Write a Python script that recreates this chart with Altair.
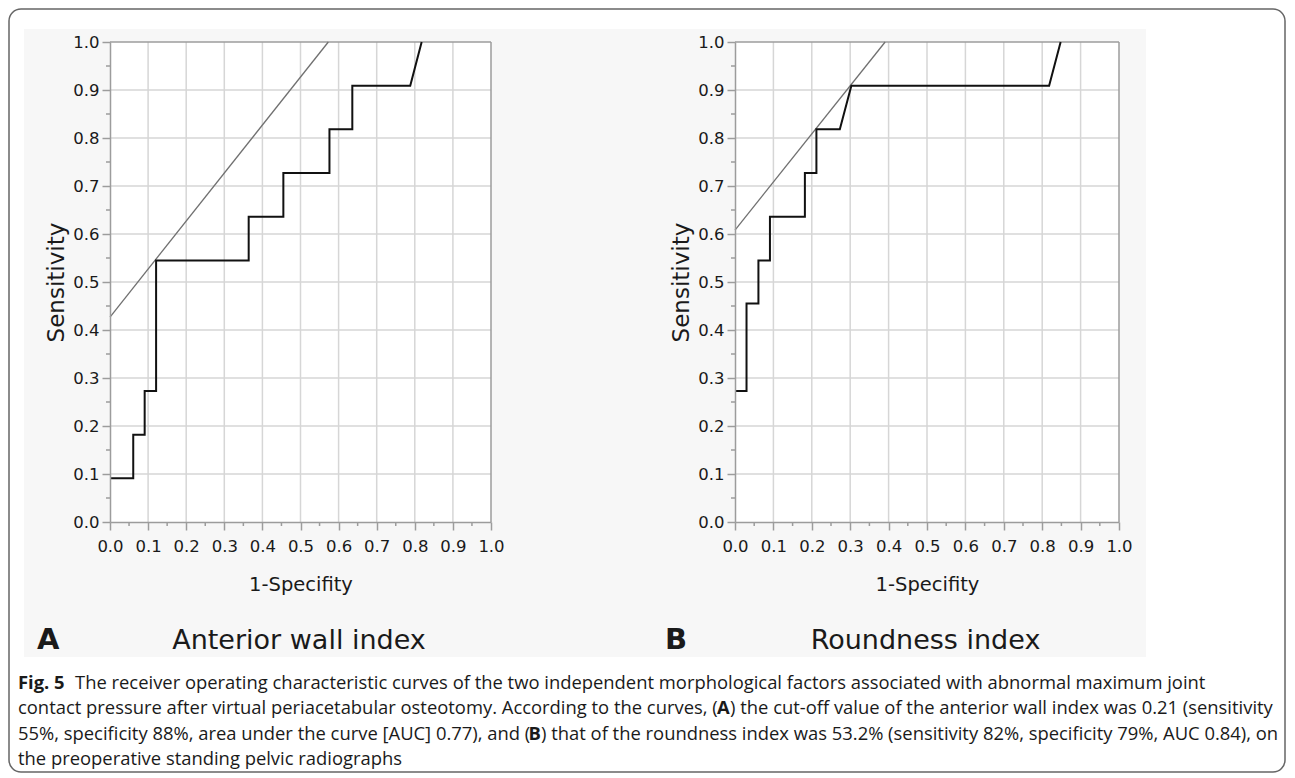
import altair as alt
import pandas as pd

# ---------------- data ----------------
tick_values = [0.0, 0.1, 0.2, 0.3, 0.4, 0.5, 0.6, 0.7, 0.8, 0.9, 1.0]
grid_values = [0.1, 0.2, 0.3, 0.4, 0.5, 0.6, 0.7, 0.8, 0.9]
minor_values = [0.05, 0.15, 0.25, 0.35, 0.45, 0.55, 0.65, 0.75, 0.85, 0.95]
frame_values = [1.0]

# Panel A: anterior wall index ROC curve
a_fpr = [0.0, 0.061, 0.061, 0.091, 0.091, 0.121, 0.121, 0.364, 0.364, 0.455, 0.455,
         0.576, 0.576, 0.636, 0.636, 0.788, 0.818]
a_tpr = [0.091, 0.091, 0.182, 0.182, 0.273, 0.273, 0.545, 0.545, 0.636, 0.636, 0.727,
         0.727, 0.818, 0.818, 0.909, 0.909, 1.0]
a_ref_x = [0.0, 0.573]
a_ref_y = [0.427, 1.0]

# Panel B: roundness index ROC curve
b_fpr = [0.0, 0.030, 0.030, 0.061, 0.061, 0.091, 0.091, 0.182, 0.182, 0.212, 0.212,
         0.273, 0.303, 0.818, 0.848]
b_tpr = [0.273, 0.273, 0.455, 0.455, 0.545, 0.545, 0.636, 0.636, 0.727, 0.727, 0.818,
         0.818, 0.909, 0.909, 1.0]
b_ref_x = [0.0, 0.391]
b_ref_y = [0.608, 1.0]

panel_letters = ["A", "B"]
panel_titles = ["Anterior wall index", "Roundness index"]
x_title = "1-Specifity"
y_title = "Sensitivity"

caption_fig = "Fig. 5"
caption_l1 = ("The receiver operating characteristic curves of the two independent morphological "
              "factors associated with abnormal maximum joint")
caption_l2a = "contact pressure after virtual periacetabular osteotomy. According to the curves, ("
caption_l2b = "A"
caption_l2c = ") the cut-off value of the anterior wall index was 0.21 (sensitivity"
caption_l3a = "55%, specificity 88%, area under the curve [AUC] 0.77), and ("
caption_l3b = "B"
caption_l3c = (") that of the roundness index was 53.2% (sensitivity 82%, specificity 79%, "
               "AUC 0.84), on")
caption_l4 = "the preoperative standing pelvic radiographs"

# ---------------- layout / style ----------------
W_A, W_B, H = 381, 384, 480
GAP = 244
FONT = "DejaVu Sans"
CFONT = "Open Sans"
GRID = "#d6d6d6"
AX = "#9c9c9c"
TXT = "#1a1a1a"
CAP_SIZE = 18.4

one = pd.DataFrame({"k": [0]})
SCALE = alt.Scale(domain=[0, 1], nice=False, zero=False)


def xenc(field):
    return alt.X(field, type="quantitative", scale=SCALE,
                 axis=alt.Axis(values=tick_values, format=".1f", title=x_title, zindex=1,
                               labelPadding=8, titlePadding=21, titleFontSize=19.5))


def yenc(field):
    return alt.Y(field, type="quantitative", scale=SCALE,
                 axis=alt.Axis(values=tick_values, format=".1f", title=y_title, zindex=1,
                               labelPadding=3, titlePadding=4, titleFontSize=23))


def text_layer(s, x, y, size, weight="normal", align="left", font=FONT):
    return alt.Chart(one).mark_text(
        text=s, font=font, fontSize=size, fontWeight=weight, align=align,
        baseline="alphabetic", color=TXT
    ).encode(x=alt.value(x), y=alt.value(y))


def panel(width, fpr, tpr, rx, ry, letter, title, letter_x, underlays, overlays):
    layers = list(underlays)
    layers.append(alt.Chart(one).mark_rect(fill="white").encode(
        x=alt.value(0), x2=alt.value(width), y=alt.value(0), y2=alt.value(H)))
    g = pd.DataFrame({"g": grid_values})
    layers.append(alt.Chart(g).mark_rule(color=GRID, strokeWidth=1.5).encode(x=xenc("g")))
    layers.append(alt.Chart(g).mark_rule(color=GRID, strokeWidth=1.5).encode(y=yenc("g")))
    f = pd.DataFrame({"f": frame_values})
    layers.append(alt.Chart(f).mark_rule(color=AX, strokeWidth=1.5).encode(x=xenc("f")))
    layers.append(alt.Chart(f).mark_rule(color=AX, strokeWidth=1.5).encode(y=yenc("f")))
    m = pd.DataFrame({"m": minor_values})
    layers.append(alt.Chart(m).mark_rule(color=AX, strokeWidth=1.5).encode(
        x=xenc("m"), y=alt.value(H), y2=alt.value(H + 4)))
    layers.append(alt.Chart(m).mark_rule(color=AX, strokeWidth=1.5).encode(
        y=yenc("m"), x=alt.value(-4), x2=alt.value(0)))
    ref = pd.DataFrame({"x": rx, "y": ry})
    layers.append(alt.Chart(ref).mark_line(color="#707070", strokeWidth=1.3).encode(
        x=xenc("x"), y=yenc("y")))
    cur = pd.DataFrame({"fpr": fpr, "tpr": tpr, "o": list(range(len(fpr)))})
    layers.append(alt.Chart(cur).mark_line(color="#111111", strokeWidth=2,
                                           strokeJoin="miter").encode(
        x=xenc("fpr"), y=yenc("tpr"), order="o:Q"))
    layers.append(text_layer(letter, letter_x, 607, 29, weight="bold"))
    layers.append(text_layer(title, width / 2 - 1.5, 607, 27, align="center"))
    layers += overlays
    return alt.layer(*layers).properties(width=width, height=H)


# decorations of the whole figure (drawn behind, inside panel A)
border = alt.Chart(one).mark_rect(fill="white", fillOpacity=0, stroke="#666666",
                                   strokeWidth=1.5, cornerRadius=12).encode(
    x=alt.value(-101), x2=alt.value(1175), y=alt.value(-33), y2=alt.value(730))
grey = alt.Chart(one).mark_rect(fill="#f7f7f7").encode(
    x=alt.value(-86), x2=alt.value(1036), y=alt.value(-13), y2=alt.value(615))

L1, L2, L3, L4 = 646.5, 672, 697.5, 723
caption = [
    text_layer(caption_fig, -92, L1, CAP_SIZE, weight="bold", font=CFONT),
    text_layer(caption_l1, -35, L1, CAP_SIZE, font=CFONT),
    text_layer(caption_l2a, -92, L2, CAP_SIZE, font=CFONT),
    text_layer(caption_l2b, 607, L2, CAP_SIZE, weight="bold", font=CFONT),
    text_layer(caption_l2c, 620, L2, CAP_SIZE, font=CFONT),
    text_layer(caption_l3a, -92, L3, CAP_SIZE, font=CFONT),
    text_layer(caption_l3b, 418.5, L3, CAP_SIZE, weight="bold", font=CFONT),
    text_layer(caption_l3c, 431, L3, CAP_SIZE, font=CFONT),
    text_layer(caption_l4, -92, L4, CAP_SIZE, font=CFONT),
]

panel_a = panel(W_A, a_fpr, a_tpr, a_ref_x, a_ref_y, panel_letters[0], panel_titles[0],
                -73, [border, grey], caption)
panel_b = panel(W_B, b_fpr, b_tpr, b_ref_x, b_ref_y, panel_letters[1], panel_titles[1],
                -70, [], [])

chart = alt.hconcat(panel_a, panel_b, spacing=GAP, bounds="flush").properties(
    padding=0, background="white"
).configure_view(strokeWidth=0).configure_axis(
    labelFont=FONT, labelFontSize=16.5, labelColor=TXT, labelFlush=False,
    labelOverlap=False, labelBound=False,
    tickSize=8, tickColor=AX, tickWidth=1.5,
    domainColor=AX, domainWidth=1.5, grid=False,
    titleFont=FONT, titleFontWeight="normal", titleColor=TXT
)

chart.save("out.html", embed_options={"renderer": "svg", "actions": False})
